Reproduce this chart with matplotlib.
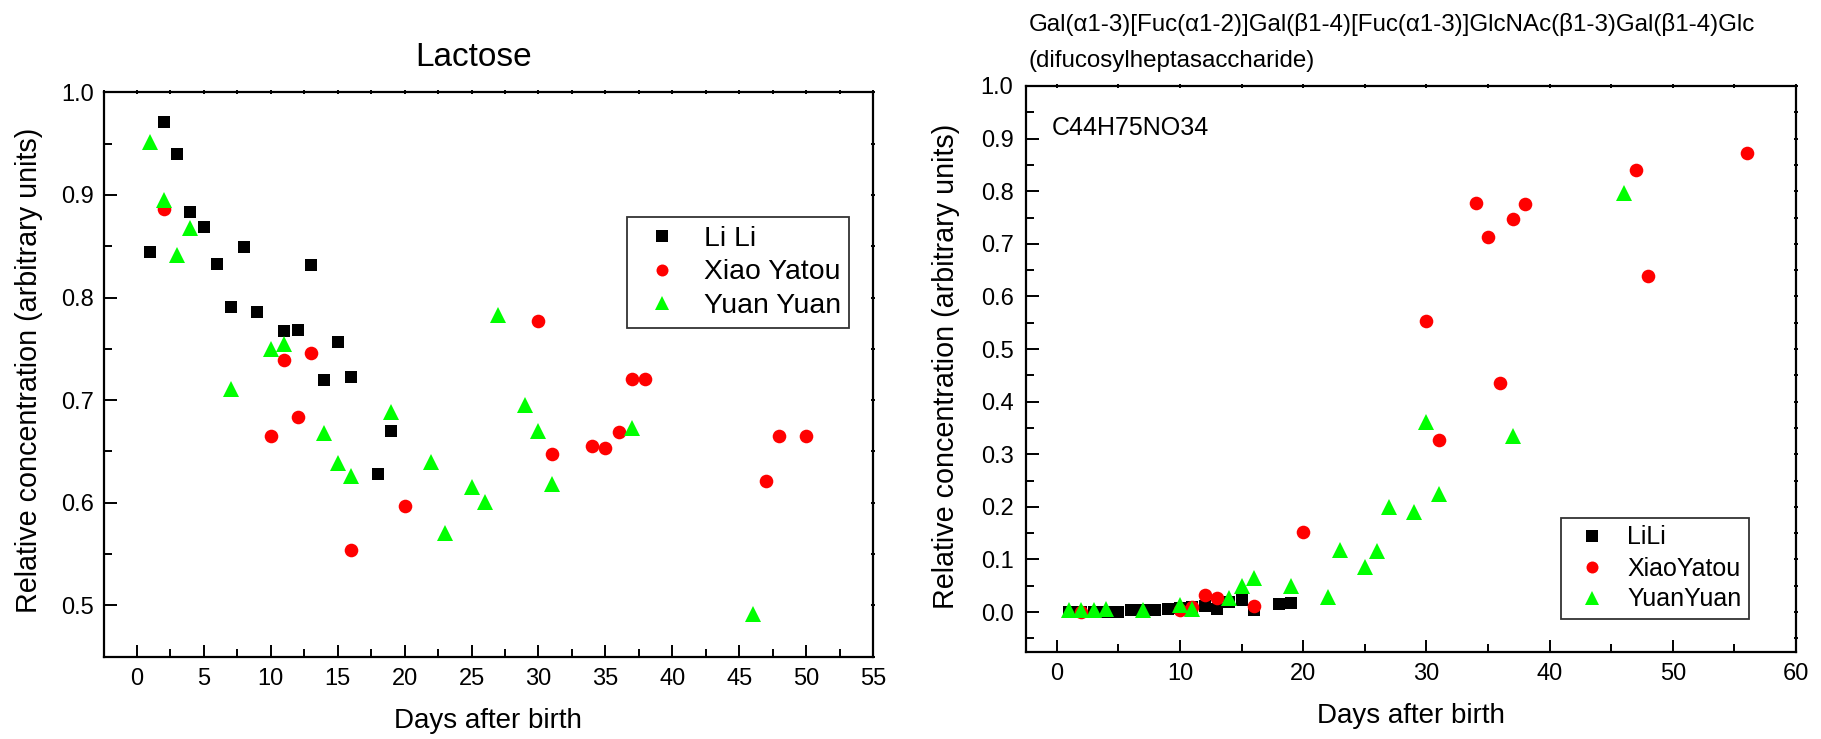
import matplotlib
matplotlib.use("Agg")
import matplotlib.pyplot as plt
from matplotlib.ticker import MultipleLocator, FormatStrFormatter, NullFormatter

plt.rcParams['font.family'] = ['Liberation Sans', 'DejaVu Sans']

# ---- Lactose panel data ----
lili_days_lac = [1, 2, 3, 4, 5, 6, 7, 8, 9, 11, 12, 13, 14, 15, 16, 18, 19]
lili_lac = [0.844, 0.971, 0.940, 0.883, 0.869, 0.833, 0.791, 0.849, 0.786,
            0.767, 0.768, 0.832, 0.720, 0.757, 0.723, 0.628, 0.670]

xiao_days_lac = [2, 10, 11, 12, 13, 16, 20, 30, 31, 34, 35, 36, 37, 38, 47, 48, 50]
xiao_lac = [0.886, 0.665, 0.739, 0.684, 0.746, 0.554, 0.597, 0.777, 0.648,
            0.655, 0.653, 0.669, 0.721, 0.721, 0.621, 0.665, 0.665]

yuan_days_lac = [1, 2, 3, 4, 7, 10, 11, 14, 15, 16, 19, 22, 23, 25, 26, 27, 29,
                 30, 31, 37, 46]
yuan_lac = [0.952, 0.895, 0.841, 0.868, 0.711, 0.750, 0.755, 0.668, 0.639,
            0.626, 0.688, 0.640, 0.571, 0.615, 0.601, 0.783, 0.695, 0.670,
            0.618, 0.673, 0.492]

# ---- Difucosylheptasaccharide panel data ----
lili_days_dfh = [1, 2, 3, 4, 5, 6, 7, 8, 9, 10, 11, 12, 13, 14, 15, 16, 18, 19]
lili_dfh = [0.001, 0.001, 0.001, 0.001, 0.001, 0.003, 0.003, 0.004, 0.006,
            0.008, 0.010, 0.011, 0.006, 0.020, 0.022, 0.004, 0.016, 0.018]

xiao_days_dfh = [2, 10, 11, 12, 13, 16, 20, 30, 31, 34, 35, 36, 37, 38, 47, 48, 56]
xiao_dfh = [0.000, 0.004, 0.010, 0.033, 0.027, 0.011, 0.152, 0.554, 0.327,
            0.778, 0.713, 0.435, 0.747, 0.776, 0.840, 0.639, 0.873]

yuan_days_dfh = [1, 2, 3, 4, 7, 10, 11, 14, 15, 16, 19, 22, 23, 25, 26, 27, 29,
                 30, 31, 37, 46]
yuan_dfh = [0.003, 0.003, 0.004, 0.006, 0.004, 0.013, 0.006, 0.026, 0.049,
            0.065, 0.049, 0.028, 0.118, 0.086, 0.116, 0.200, 0.190, 0.362,
            0.225, 0.334, 0.796]

names_lac = ['Li Li', 'Xiao Yatou', 'Yuan Yuan']
names_dfh = ['LiLi', 'XiaoYatou', 'YuanYuan']
title_lac = 'Lactose'
title_dfh_1 = 'Gal(\u03b11-3)[Fuc(\u03b11-2)]Gal(\u03b21-4)[Fuc(\u03b11-3)]GlcNAc(\u03b21-3)Gal(\u03b21-4)Glc'
title_dfh_2 = '(difucosylheptasaccharide)'
formula_dfh = 'C44H75NO34'
xlabel = 'Days after birth'
ylabel = 'Relative concentration (arbitrary units)'

W, H = 1821, 739
fig = plt.figure(figsize=(W / 100, H / 100), dpi=100)


def px_rect(x0, y0, x1, y1):
    return [x0 / W, 1 - y1 / H, (x1 - x0) / W, (y1 - y0) / H]


ax1 = fig.add_axes(px_rect(103.5, 92.3, 873, 656.7))
ax2 = fig.add_axes(px_rect(1026, 86.0, 1796, 651.5))

styles = [
    dict(marker='s', color='black', ms=9.2),
    dict(marker='o', color='red', ms=9.8),
    dict(marker='^', color='#00ff00', ms=11.2),
]

series_lac = [(lili_days_lac, lili_lac), (xiao_days_lac, xiao_lac), (yuan_days_lac, yuan_lac)]
series_dfh = [(lili_days_dfh, lili_dfh), (xiao_days_dfh, xiao_dfh), (yuan_days_dfh, yuan_dfh)]

for ax, series, names in [(ax1, series_lac, names_lac), (ax2, series_dfh, names_dfh)]:
    for (x, y), st, nm in zip(series, styles, names):
        ax.plot(x, y, linestyle='none', marker=st['marker'], color=st['color'],
                markersize=st['ms'], markeredgewidth=0, label=nm)
    for sp in ax.spines.values():
        sp.set_linewidth(1.6)
    ax.tick_params(axis='both', which='both', direction='in', labelsize=17,
                   width=1.4, top=False, right=False)
    ax.tick_params(axis='both', which='major', length=9)
    ax.tick_params(axis='both', which='minor', length=5.5)

# Lactose axes
ax1.set_xlim(-2.5, 55)
ax1.set_ylim(0.45, 1.0)
ax1.xaxis.set_major_locator(MultipleLocator(5))
ax1.xaxis.set_minor_locator(MultipleLocator(2.5))
ax1.yaxis.set_major_locator(MultipleLocator(0.1))
ax1.yaxis.set_minor_locator(MultipleLocator(0.05))
ax1.yaxis.set_major_formatter(FormatStrFormatter('%.1f'))
ax1.tick_params(axis='x', which='major', pad=8)
ax1.tick_params(axis='y', which='major', pad=7)

# Difucosylheptasaccharide axes
ax2.set_xlim(-2.5, 60)
ax2.set_ylim(-0.075, 1.0)
ax2.xaxis.set_major_locator(MultipleLocator(10))
ax2.xaxis.set_minor_locator(MultipleLocator(5))
ax2.yaxis.set_major_locator(MultipleLocator(0.1))
ax2.yaxis.set_minor_locator(MultipleLocator(0.05))
ax2.yaxis.set_major_formatter(FormatStrFormatter('%.1f'))
ax2.tick_params(axis='x', which='major', pad=8)
ax2.tick_params(axis='y', which='major', pad=9)

# small marks on the top and right frame lines
for ax, xmaj, xmin in [(ax1, 5, 2.5), (ax2, 10, 5)]:
    tx = ax.twiny()
    tx.set_xlim(ax.get_xlim())
    tx.xaxis.set_major_locator(MultipleLocator(xmaj))
    tx.xaxis.set_minor_locator(MultipleLocator(xmin))
    tx.xaxis.set_major_formatter(NullFormatter())
    tx.tick_params(axis='x', which='both', direction='inout', length=3, width=1.4)
    for sp in tx.spines.values():
        sp.set_visible(False)
    ty = ax.twinx()
    ty.set_ylim(ax.get_ylim())
    ty.yaxis.set_major_locator(MultipleLocator(0.1))
    ty.yaxis.set_minor_locator(MultipleLocator(0.05))
    ty.yaxis.set_major_formatter(NullFormatter())
    ty.tick_params(axis='y', which='both', direction='inout', length=3, width=1.4)
    for sp in ty.spines.values():
        sp.set_visible(False)

# titles and labels
fig.text(474 / W, 1 - 57 / H, title_lac, fontsize=24, ha='center', va='center')
fig.text(1029 / W, 1 - 24 / H, title_dfh_1, fontsize=17.4, ha='left', va='center')
fig.text(1029 / W, 1 - 61 / H, title_dfh_2, fontsize=17.4, ha='left', va='center')
fig.text(1052 / W, 1 - 128 / H, formula_dfh, fontsize=18, ha='left', va='center')

fig.text(488 / W, 1 - 721 / H, xlabel, fontsize=20, ha='center', va='center')
fig.text(1411 / W, 1 - 716 / H, xlabel, fontsize=20, ha='center', va='center')
fig.text(29 / W, 1 - 370 / H, ylabel, fontsize=20.7, ha='center', va='center', rotation=90)
fig.text(946 / W, 1 - 366 / H, ylabel, fontsize=20.7, ha='center', va='center', rotation=90)

# legends
leg1 = ax1.legend(loc='upper left', bbox_to_anchor=(627 / W, 1 - 217 / H),
                  bbox_transform=fig.transFigure, fontsize=20.4, frameon=True,
                  fancybox=False, edgecolor='black', borderaxespad=0,
                  borderpad=0.3, labelspacing=0.28, handlelength=1.85,
                  handletextpad=0.55)
leg1.get_frame().set_linewidth(1.3)
leg2 = ax2.legend(loc='upper left', bbox_to_anchor=(1561 / W, 1 - 518 / H),
                  bbox_transform=fig.transFigure, fontsize=18, frameon=True,
                  fancybox=False, edgecolor='black', borderaxespad=0,
                  borderpad=0.3, labelspacing=0.28, handlelength=1.88,
                  handletextpad=0.46)
leg2.get_frame().set_linewidth(1.3)
for leg in (leg1, leg2):
    for h in leg.legend_handles:
        h.set_markersize(h.get_markersize() * 0.88)

fig.savefig('out.png', dpi=100)
